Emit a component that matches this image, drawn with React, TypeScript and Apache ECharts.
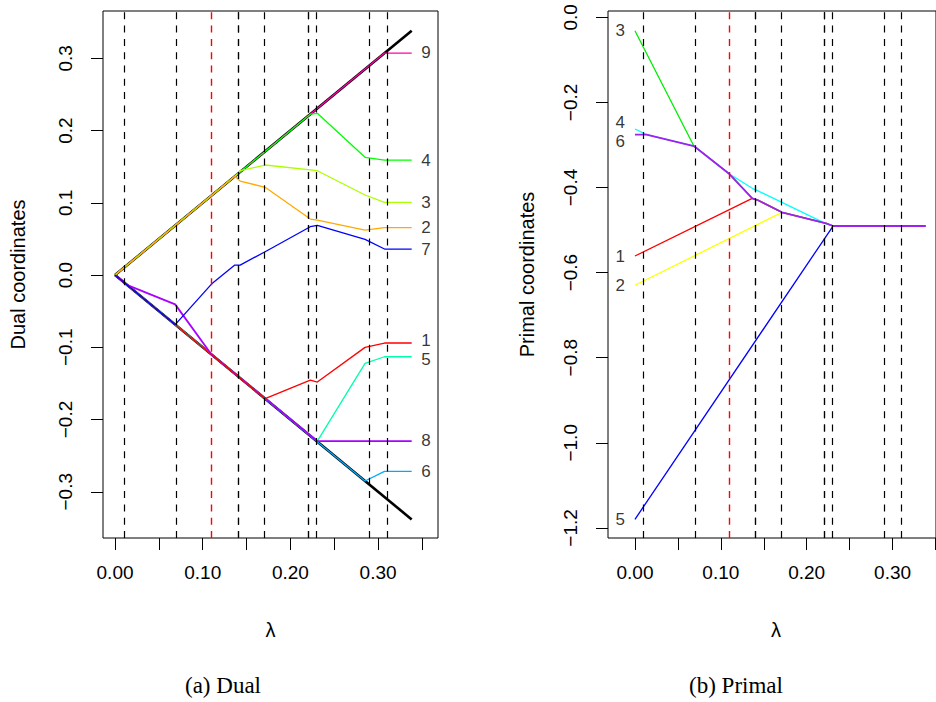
import React, { useEffect, useRef } from "react";
import * as echarts from "echarts";

// ---------- data ----------
const LAMBDA_END = 0.3383;
const breakpoints = [0.0135, 0.0686, 0.11, 0.1366, 0.1427, 0.1712, 0.2227, 0.2246, 0.2307, 0.2851, 0.3073];
const redBreakpoint = 0.11;

const xTicks = [0, 0.05, 0.1, 0.15, 0.2, 0.25, 0.3, 0.35];
const xTickLabels = [0, 0.1, 0.2, 0.3];
const dualYTicks = [-0.3, -0.2, -0.1, 0, 0.1, 0.2, 0.3];
const primalYTicks = [-1.2, -1.0, -0.8, -0.6, -0.4, -0.2, 0];

// dual paths
const boundX = [0, LAMBDA_END];
const upperBoundY = [0, 0.3383];
const lowerBoundY = [0, -0.3383];

const dual1X = [0, 0.1712, 0.2227, 0.2307, 0.2851, 0.3073, 0.3383];
const dual1Y = [0, -0.1712, -0.1454, -0.1481, -0.1001, -0.0941, -0.0941];
const dual2X = [0, 0.1366, 0.1427, 0.1712, 0.2227, 0.2307, 0.2851, 0.3073, 0.3383];
const dual2Y = [0, 0.1366, 0.1301, 0.1214, 0.0775, 0.0761, 0.0623, 0.0655, 0.0655];
const dual3X = [0, 0.1366, 0.1427, 0.1712, 0.2307, 0.2851, 0.3073, 0.3383];
const dual3Y = [0, 0.1366, 0.1444, 0.1523, 0.1444, 0.1108, 0.1007, 0.1007];
const dual4X = [0, 0.2227, 0.2307, 0.2851, 0.3073, 0.3383];
const dual4Y = [0, 0.2227, 0.2239, 0.163, 0.1592, 0.1592];
const dual5X = [0, 0.2307, 0.2851, 0.3073, 0.3383];
const dual5Y = [0, -0.23, -0.1222, -0.1131, -0.1131];
const dual6X = [0, 0.2851, 0.3073, 0.3383];
const dual6Y = [0, -0.2851, -0.2718, -0.2718];
const dual7X = [0, 0.0686, 0.11, 0.1366, 0.1427, 0.1712, 0.2227, 0.2307, 0.2851, 0.3073, 0.3383];
const dual7Y = [0, -0.0686, -0.0125, 0.0138, 0.0138, 0.0323, 0.0669, 0.0688, 0.0494, 0.036, 0.036];
const dual8X = [0, 0.0135, 0.0686, 0.11, 0.2307, 0.3383];
const dual8Y = [0, -0.0135, -0.0406, -0.11, -0.23, -0.23];
const dual9X = [0, 0.3073, 0.3383];
const dual9Y = [0, 0.3073, 0.3073];

const dualNames = ["1", "2", "3", "4", "5", "6", "7", "8", "9"];
const dualColors = ["#FF0000", "#FFAA00", "#AAFF00", "#00FF00", "#00FFAA", "#00AAFF", "#0000FF", "#AA00FF", "#FF00AA"];
const dualDrawOrder = [8, 5, 4, 7, 3, 2, 0, 1, 6];
const dualLabelX = 0.3546;
const dualLabelY = [-0.0905, 0.0655, 0.1007, 0.1592, -0.1175, -0.2718, 0.036, -0.2295, 0.3078];

// primal paths
const primal1X = [0, 0.1366, 0.1427, 0.1712, 0.2227, 0.2307, 0.3383];
const primal1Y = [-0.561, -0.4254, -0.4294, -0.4583, -0.4845, -0.4905, -0.4905];
const primal2X = [0, 0.1712, 0.2227, 0.2307, 0.3383];
const primal2Y = [-0.6298, -0.4583, -0.4845, -0.4905, -0.4905];
const primal3X = [0, 0.0686, 0.11, 0.1366, 0.1427, 0.1712, 0.2227, 0.2307, 0.3383];
const primal3Y = [-0.0315, -0.3025, -0.3683, -0.4254, -0.4294, -0.4583, -0.4845, -0.4905, -0.4905];
const primal4X = [0, 0.0135, 0.0686, 0.11, 0.1366, 0.1427, 0.1712, 0.2227, 0.2307, 0.3383];
const primal4Y = [-0.2625, -0.2759, -0.3025, -0.3683, -0.4019, -0.4075, -0.4348, -0.4855, -0.4905, -0.4905];
const primal5X = [0, 0.2307, 0.3383];
const primal5Y = [-1.1798, -0.4905, -0.4905];
const primal6X = [0, 0.0135, 0.0686, 0.11, 0.1366, 0.1427, 0.1712, 0.2227, 0.2307, 0.3383];
const primal6Y = [-0.2759, -0.2759, -0.3025, -0.3683, -0.4254, -0.4294, -0.4583, -0.4845, -0.4905, -0.4905];

const primalNames = ["1", "2", "3", "4", "5", "6"];
const primalColors = ["#FF0000", "#FFFF00", "#00EE00", "#00FFFF", "#0000FF", "#A020F0"];
const primalLabelX = -0.0171;
const primalLabelY = [-0.561, -0.6298, -0.0322, -0.247, -1.1798, -0.293];

// ---------- helpers ----------
const SANS = "Liberation Sans, Arial, Helvetica, sans-serif";
const SERIF = "Liberation Serif, Times New Roman, serif";
const zip = (xs: number[], ys: number[]) => xs.map((x, i) => [x, ys[i]]);
const fmt1 = (v: number) => (v < -1e-9 ? "\u2212" : "") + Math.abs(v).toFixed(1);
const fmt2 = (v: number) => Math.abs(v).toFixed(2);

function lineSeries(name: string, data: number[][], color: string, idx: number, width = 1.3, z = 3) {
  return {
    name,
    type: "line",
    xAxisIndex: idx,
    yAxisIndex: idx,
    data,
    showSymbol: false,
    symbol: "none",
    silent: true,
    z,
    lineStyle: { color, width },
  };
}

function xAxisCfg(idx: number, min: number, max: number) {
  return {
    gridIndex: idx,
    type: "value",
    position: "bottom",
    min,
    max,
    axisLine: { show: false, onZero: false },
    splitLine: { show: false },
    axisTick: { show: true, length: 12, customValues: xTicks, lineStyle: { color: "#000", width: 1 } },
    axisLabel: {
      customValues: xTickLabels,
      formatter: fmt2,
      margin: 25,
      fontSize: 19,
      fontFamily: SANS,
      color: "#000",
    },
  };
}

function yAxisCfg(idx: number, min: number, max: number, ticks: number[]) {
  return {
    gridIndex: idx,
    type: "value",
    position: "left",
    min,
    max,
    axisLine: { show: false, onZero: false },
    splitLine: { show: false },
    axisTick: { show: true, length: 12, customValues: ticks, lineStyle: { color: "#000", width: 1 } },
    axisLabel: {
      customValues: ticks,
      formatter: fmt1,
      rotate: 90,
      margin: 28,
      fontSize: 19,
      fontFamily: SANS,
      color: "#000",
    },
  };
}

function vlines(idx: number) {
  return {
    type: "line",
    xAxisIndex: idx,
    yAxisIndex: idx,
    data: [],
    silent: true,
    markLine: {
      silent: true,
      symbol: "none",
      label: { show: false },
      animation: false,
      lineStyle: { type: [7, 6.3], color: "#000", width: 1.2 },
      data: breakpoints.map((b) => ({
        xAxis: b,
        lineStyle: { color: b === redBreakpoint ? "#FF0000" : "#000", type: [7, 6.3], width: b === redBreakpoint ? 1.4 : 1.2 },
      })),
    },
  };
}

function labelSeries(idx: number, xs: number, ys: number[], names: string[]) {
  return {
    type: "scatter",
    xAxisIndex: idx,
    yAxisIndex: idx,
    symbolSize: 1,
    silent: true,
    itemStyle: { color: "rgba(0,0,0,0)" },
    z: 10,
    data: ys.map((y, i) => [xs, y, names[i]]),
    label: {
      show: true,
      position: "inside",
      formatter: (p: any) => p.value[2],
      fontSize: 17,
      lineHeight: 15,
      fontFamily: SANS,
      color: "#000",
    },
  };
}

const textStyle = (text: string, fontSize: number, fontFamily: string) => ({
  text,
  fontSize,
  fontFamily,
  fill: "#000",
  align: "center",
  verticalAlign: "middle",
  textAlign: "center",
  textVerticalAlign: "middle",
});

export default function App() {
  const ref = useRef<HTMLDivElement>(null);

  useEffect(() => {
    if (!ref.current) return;
    const chart = echarts.init(ref.current, null, { renderer: "svg" });

    const dualData = [
      zip(dual1X, dual1Y),
      zip(dual2X, dual2Y),
      zip(dual3X, dual3Y),
      zip(dual4X, dual4Y),
      zip(dual5X, dual5Y),
      zip(dual6X, dual6Y),
      zip(dual7X, dual7Y),
      zip(dual8X, dual8Y),
      zip(dual9X, dual9Y),
    ];
    const primalData = [
      zip(primal1X, primal1Y),
      zip(primal2X, primal2Y),
      zip(primal3X, primal3Y),
      zip(primal4X, primal4Y),
      zip(primal5X, primal5Y),
      zip(primal6X, primal6Y),
    ];

    const series: any[] = [];
    series.push(vlines(0));
    series.push(lineSeries("upper", zip(boundX, upperBoundY), "#000", 0, 2.6, 2));
    series.push(lineSeries("lower", zip(boundX, lowerBoundY), "#000", 0, 2.6, 2));
    dualDrawOrder.forEach((i, k) => {
      series.push(lineSeries("d" + dualNames[i], dualData[i], dualColors[i], 0, i === 7 ? 1.8 : 1.3, 3 + k * 0.01));
    });
    series.push(labelSeries(0, dualLabelX, dualLabelY, dualNames));

    series.push(vlines(1));
    primalData.forEach((d, i) => {
      series.push(lineSeries("p" + primalNames[i], d, primalColors[i], 1, i === 5 ? 1.8 : 1.3, 3 + i * 0.01));
    });
    series.push(labelSeries(1, primalLabelX, primalLabelY, primalNames));

    const gridStyle = { show: true, borderColor: "#000", borderWidth: 1, backgroundColor: "transparent" };

    chart.setOption({
      animation: false,
      backgroundColor: "#fff",
      grid: [
        { left: 103, top: 11, width: 335, height: 527, ...gridStyle },
        { left: 608, top: 11, width: 335, height: 527, ...gridStyle },
      ],
      xAxis: [xAxisCfg(0, -0.0137, 0.3683), xAxisCfg(1, -0.0314, 0.3506)],
      yAxis: [yAxisCfg(0, -0.364, 0.3655, dualYTicks), yAxisCfg(1, -1.2237, 0.0148, primalYTicks)],
      series,
      graphic: [
        { type: "text", x: 18, y: 274.5, rotation: Math.PI / 2, style: textStyle("Dual coordinates", 20, SANS) },
        { type: "text", x: 527, y: 274.5, rotation: Math.PI / 2, style: textStyle("Primal coordinates", 20, SANS) },
        { type: "text", x: 270.5, y: 630, style: textStyle("λ", 20, SANS) },
        { type: "text", x: 776, y: 630, style: textStyle("λ", 20, SANS) },
        { type: "text", x: 223, y: 685, style: textStyle("(a) Dual", 23, SERIF) },
        { type: "text", x: 736, y: 685, style: textStyle("(b) Primal", 23, SERIF) },
      ],
    });

    return () => chart.dispose();
  }, []);

  return (
    <div
      ref={ref}
      style={{ position: "fixed", left: 0, top: 0, width: 936, height: 702, overflow: "hidden", background: "#fff" }}
    />
  );
}
